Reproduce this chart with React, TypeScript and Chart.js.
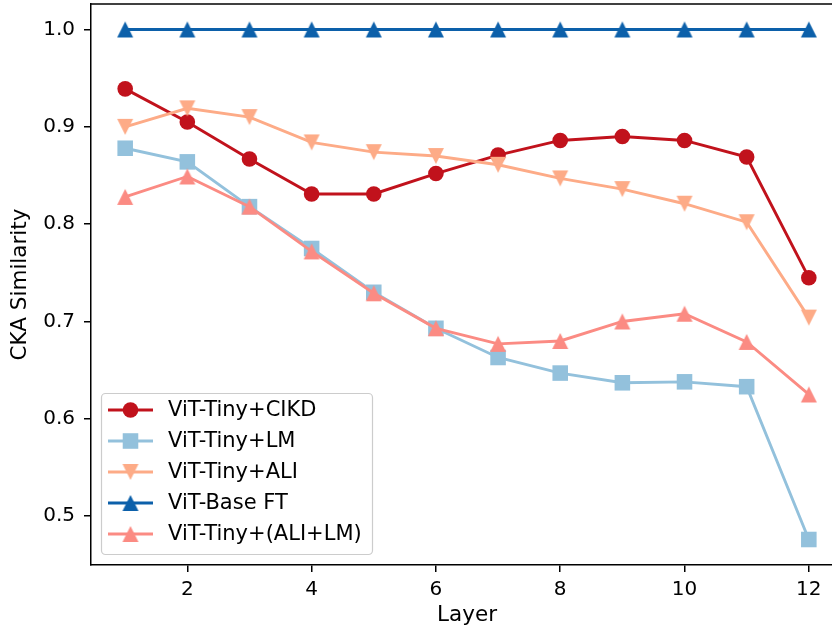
import React, { useEffect, useRef } from 'react';
import { Chart, registerables } from 'chart.js';

Chart.register(...registerables);

const layers = [1, 2, 3, 4, 5, 6, 7, 8, 9, 10, 11, 12];
const cikd = [0.939, 0.905, 0.867, 0.831, 0.831, 0.852, 0.871, 0.886, 0.890, 0.886, 0.869, 0.745];
const lm = [0.878, 0.864, 0.818, 0.775, 0.730, 0.693, 0.663, 0.647, 0.637, 0.638, 0.633, 0.476];
const ali = [0.900, 0.919, 0.910, 0.884, 0.874, 0.870, 0.861, 0.847, 0.836, 0.821, 0.802, 0.704];
const baseFt = [1.0, 1.0, 1.0, 1.0, 1.0, 1.0, 1.0, 1.0, 1.0, 1.0, 1.0, 1.0];
const aliLm = [0.828, 0.849, 0.818, 0.772, 0.729, 0.693, 0.677, 0.680, 0.700, 0.708, 0.679, 0.625];
const xTicks = [2, 4, 6, 8, 10, 12];
const yTicks = [0.5, 0.6, 0.7, 0.8, 0.9, 1.0];
const seriesNames = ['ViT-Tiny+CIKD', 'ViT-Tiny+LM', 'ViT-Tiny+ALI', 'ViT-Base FT', 'ViT-Tiny+(ALI+LM)'];

const FONT = "'DejaVu Sans', sans-serif";
const TICK_FS = 20;
const LABEL_FS = 21.5;
const LEGEND_FS = 21;

function triangleMarker(color: string, down: boolean, size = 16): HTMLCanvasElement {
  const c = document.createElement('canvas');
  const pad = 1;
  c.width = size + pad * 2;
  c.height = size + pad * 2;
  const g = c.getContext('2d')!;
  g.fillStyle = color;
  g.beginPath();
  if (down) {
    g.moveTo(pad, pad);
    g.lineTo(pad + size, pad);
    g.lineTo(pad + size / 2, pad + size);
  } else {
    g.moveTo(pad + size / 2, pad);
    g.lineTo(pad + size, pad + size);
    g.lineTo(pad, pad + size);
  }
  g.closePath();
  g.fill();
  return c;
}

const topSpine = {
  id: 'topSpine',
  afterDraw(chart: any) {
    const { ctx, chartArea } = chart;
    ctx.save();
    ctx.strokeStyle = '#000';
    ctx.lineWidth = 1.5;
    ctx.beginPath();
    ctx.moveTo(chartArea.left, chartArea.top);
    ctx.lineTo(chartArea.right, chartArea.top);
    ctx.stroke();
    ctx.restore();
  },
};

const mplLegend = {
  id: 'mplLegend',
  afterDraw(chart: any) {
    const { ctx, chartArea } = chart;
    const ds = chart.data.datasets;
    const x0 = chartArea.left + 10;
    const w = 271;
    const rowH = 31;
    const h = 161;
    const y0 = chartArea.bottom - 11 - h;
    ctx.save();
    ctx.beginPath();
    (ctx as any).roundRect(x0 + 0.5, y0 + 0.5, w, h, 4);
    ctx.fillStyle = 'rgba(255,255,255,0.8)';
    ctx.fill();
    ctx.strokeStyle = '#cccccc';
    ctx.lineWidth = 1.2;
    ctx.stroke();
    ds.forEach((d: any, i: number) => {
      const cy = y0 + 17 + i * rowH;
      const lx0 = x0 + 7;
      const lx1 = x0 + 52;
      const mx = (lx0 + lx1) / 2;
      ctx.strokeStyle = d.borderColor;
      ctx.lineWidth = d.borderWidth;
      ctx.beginPath();
      ctx.moveTo(lx0, cy);
      ctx.lineTo(lx1, cy);
      ctx.stroke();
      ctx.fillStyle = d.backgroundColor;
      const ps = d.pointStyle;
      if (ps === 'circle') {
        ctx.beginPath();
        ctx.arc(mx, cy, d.pointRadius, 0, Math.PI * 2);
        ctx.fill();
      } else if (ps === 'rect') {
        const s = d.pointRadius * Math.SQRT1_2;
        ctx.fillRect(mx - s, cy - s, 2 * s, 2 * s);
      } else if (ps instanceof HTMLCanvasElement) {
        ctx.drawImage(ps, mx - ps.width / 2, cy - ps.height / 2);
      }
      ctx.fillStyle = '#000';
      ctx.font = `${LEGEND_FS}px ${FONT}`;
      ctx.textAlign = 'left';
      ctx.textBaseline = 'middle';
      ctx.fillText(d.label, x0 + 67, cy + 1);
    });
    ctx.restore();
  },
};

export default function App() {
  const ref = useRef<HTMLCanvasElement | null>(null);

  useEffect(() => {
    if (!ref.current) return;
    const cRed = '#c1121c';
    const cLightBlue = '#93c1dc';
    const cPeach = '#fdab87';
    const cBlue = '#0c60aa';
    const cSalmon = '#fb8b83';
    const mk = (label: string, data: number[], color: string, pointStyle: any, radius: number, order: number) => ({
      label,
      data: layers.map((x, i) => ({ x, y: data[i] })),
      borderColor: color,
      backgroundColor: color,
      borderWidth: 2.9,
      pointStyle,
      pointRadius: radius,
      pointBorderWidth: 0,
      pointBackgroundColor: color,
      tension: 0,
      clip: false,
      order,
    });
    const chart = new Chart(ref.current, {
      type: 'line',
      data: {
        datasets: [
          mk(seriesNames[0], cikd, cRed, 'circle', 7.8, 5),
          mk(seriesNames[1], lm, cLightBlue, 'rect', 11, 4),
          mk(seriesNames[2], ali, cPeach, triangleMarker(cPeach, true), 9, 3),
          mk(seriesNames[3], baseFt, cBlue, triangleMarker(cBlue, false), 9, 2),
          mk(seriesNames[4], aliLm, cSalmon, triangleMarker(cSalmon, false), 9, 1),
        ] as any,
      },
      options: {
        responsive: false,
        animation: false,
        events: [],
        layout: { autoPadding: false, padding: { top: 4, right: 2, left: 0, bottom: 0 } },
        plugins: {
          legend: { display: false },
          tooltip: { enabled: false },
        },
        scales: {
          x: {
            type: 'linear',
            min: 0.45,
            max: 12.55,
            afterBuildTicks: (s: any) => {
              s.ticks = xTicks.map((v) => ({ value: v }));
            },
            afterFit: (s: any) => {
              s.height = 66;
              s.paddingLeft = 0;
              s.paddingRight = 0;
            },
            grid: {
              display: true,
              drawOnChartArea: false,
              drawTicks: true,
              tickLength: 7,
              color: '#000',
              lineWidth: 1.5,
            },
            border: { display: true, color: '#000', width: 1.5 },
            ticks: {
              color: '#000',
              font: { family: FONT, size: TICK_FS },
              padding: 6,
              maxRotation: 0,
              autoSkip: false,
            },
            title: {
              display: true,
              text: 'Layer',
              color: '#000',
              font: { family: FONT, size: LABEL_FS },
              padding: { top: 0, bottom: 3 },
            },
          },
          y: {
            type: 'linear',
            min: 0.4498,
            max: 1.0262,
            afterBuildTicks: (s: any) => {
              s.ticks = yTicks.map((v) => ({ value: v }));
            },
            afterFit: (s: any) => {
              s.width = 91;
              s.paddingTop = 0;
              s.paddingBottom = 0;
            },
            grid: {
              display: true,
              drawOnChartArea: false,
              drawTicks: true,
              tickLength: 7,
              color: '#000',
              lineWidth: 1.5,
            },
            border: { display: true, color: '#000', width: 1.5 },
            ticks: {
              color: '#000',
              font: { family: FONT, size: TICK_FS },
              padding: 9,
              autoSkip: false,
              callback: (v: any) => Number(v).toFixed(1),
            },
            title: {
              display: true,
              text: 'CKA Similarity',
              color: '#000',
              font: { family: FONT, size: LABEL_FS },
              padding: { top: 8, bottom: 0 },
            },
          },
        },
      },
      plugins: [topSpine, mplLegend],
    });
    return () => chart.destroy();
  }, []);

  return (
    <div style={{ position: 'fixed', left: 0, top: 0, width: 832, height: 631, overflow: 'hidden', background: '#fff' }}>
      <canvas ref={ref} width={845} height={631} style={{ width: 845, height: 631, display: 'block' }} />
    </div>
  );
}
